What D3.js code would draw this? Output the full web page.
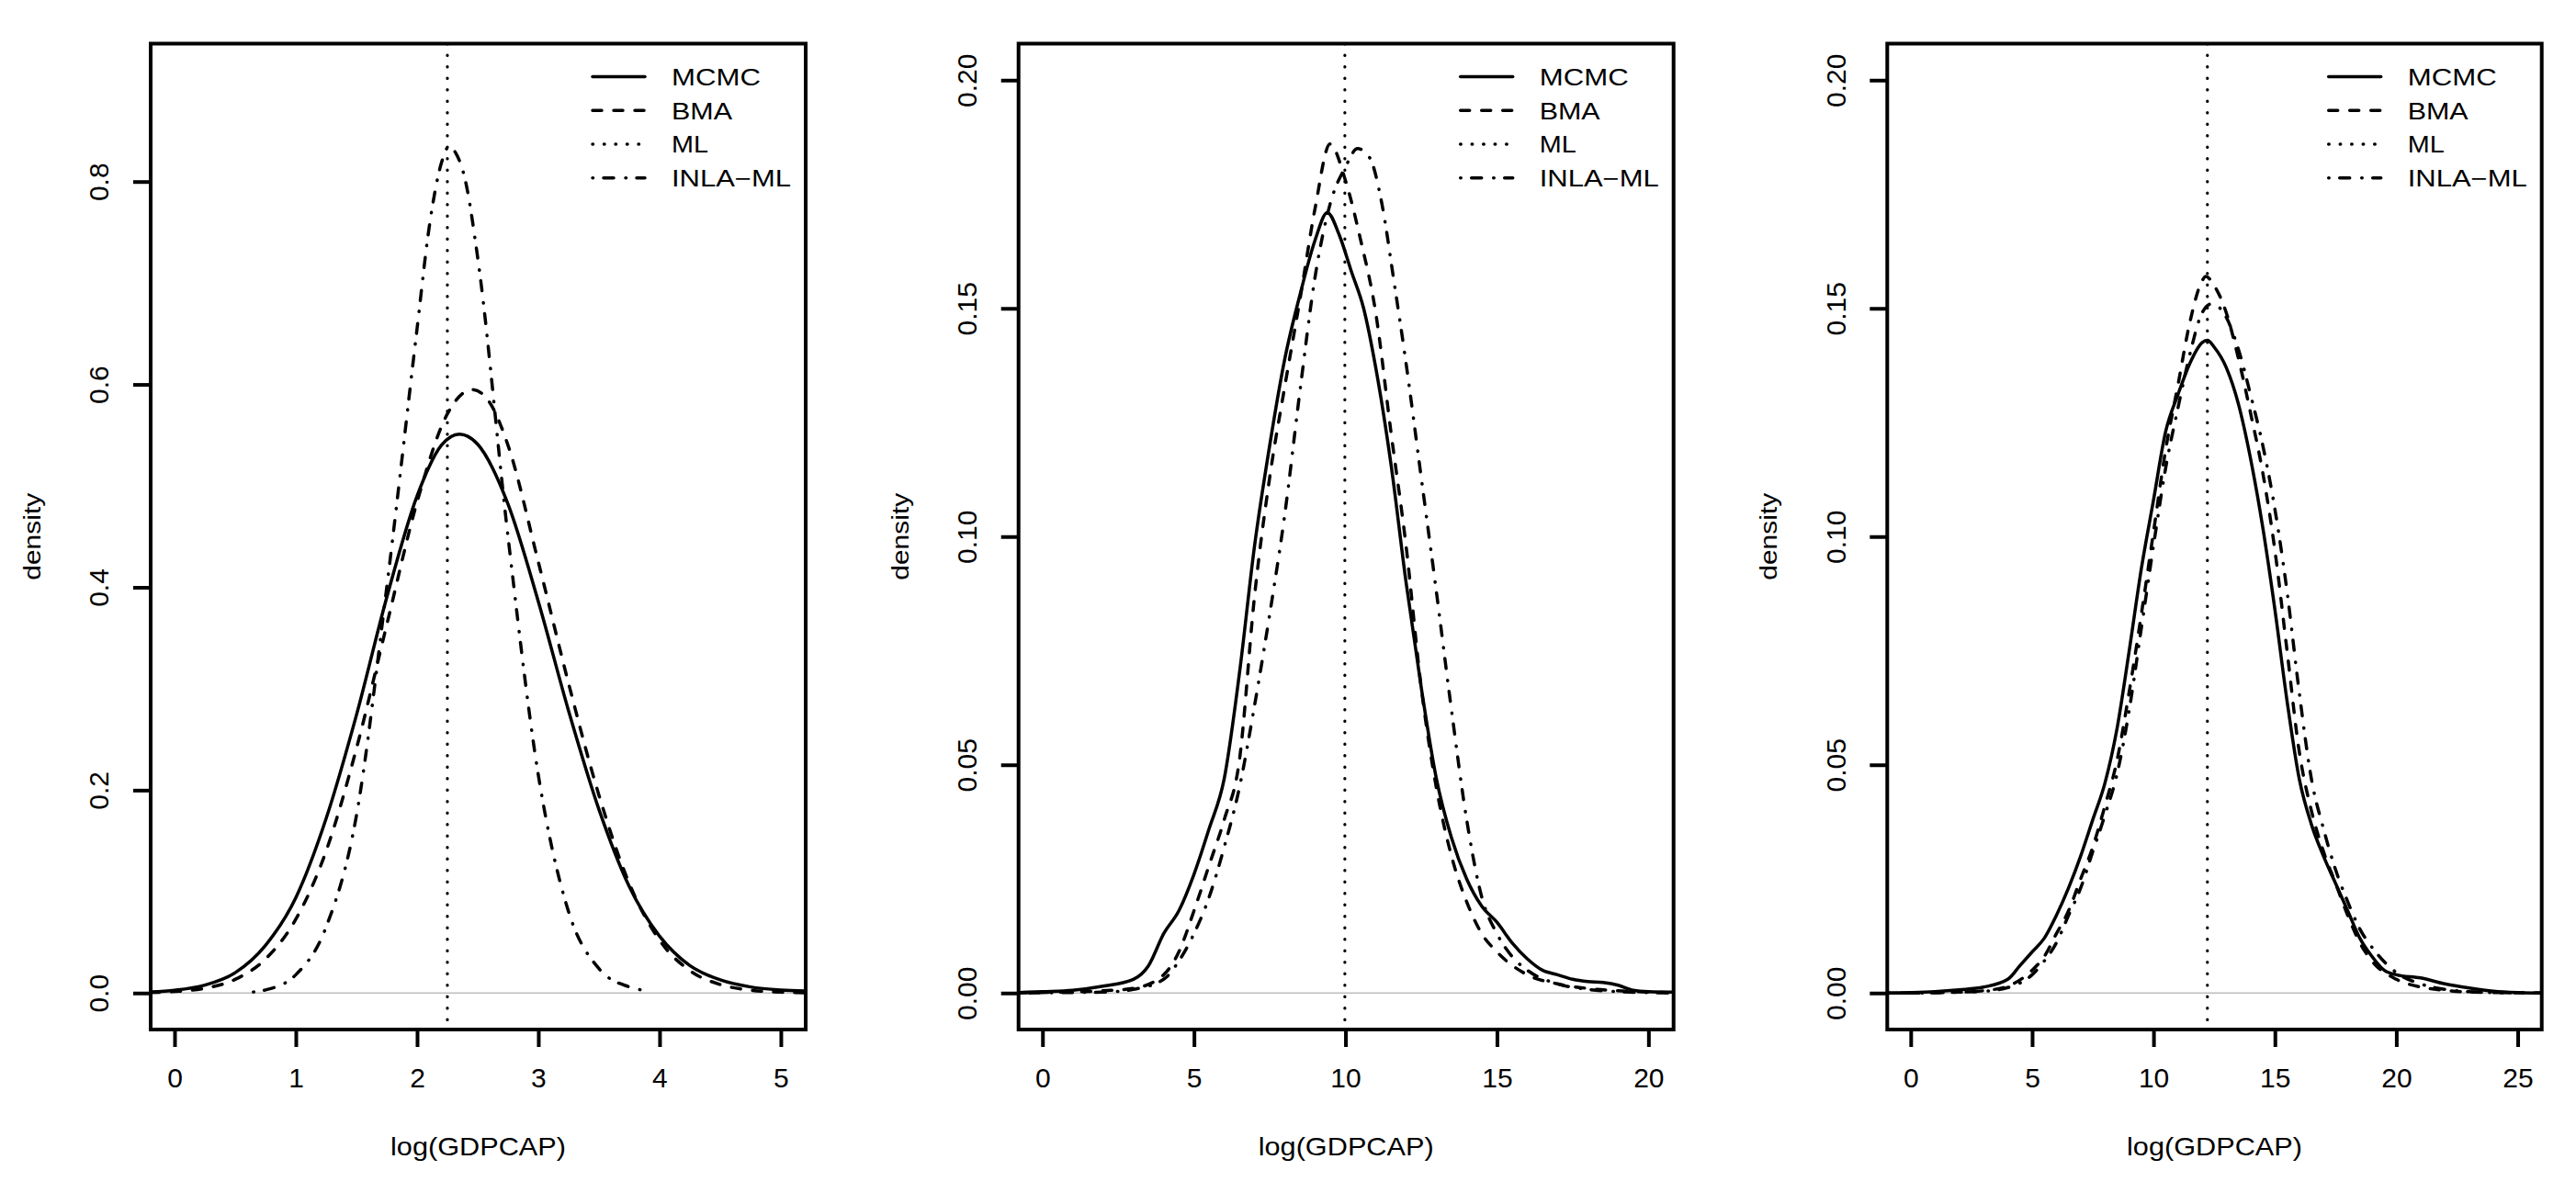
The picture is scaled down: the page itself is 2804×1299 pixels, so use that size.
<!DOCTYPE html>
<html><head><meta charset="utf-8">
<script src="https://cdn.jsdelivr.net/npm/d3@7"></script>
<style>html,body{margin:0;padding:0;background:#fff;}svg{display:block;}</style>
</head><body>
<svg id="chart" width="2804" height="1299"></svg>
<script>
// ---------- DATA ----------
const seriesNames = ["MCMC", "BMA", "ML", "INLA\u2212ML"];
const xTitle = "log(GDPCAP)";
const yTitle = "density";

// Panel 1
const p1XTicks = [0, 1, 2, 3, 4, 5];
const p1YTicks = [0.0, 0.2, 0.4, 0.6, 0.8];
const p1ML = 2.25;
const p1MCMC = [[-0.2,0.001],[0,0.0027],[0.25,0.0078],[0.5,0.020],[0.75,0.047],[1.0,0.094],[1.25,0.172],[1.5,0.274],[1.75,0.39],[2.0,0.49],[2.2,0.54],[2.35,0.551],[2.5,0.541],[2.75,0.482],[3.0,0.386],[3.25,0.278],[3.5,0.181],[3.75,0.105],[4.0,0.056],[4.25,0.027],[4.5,0.013],[4.75,0.006],[5.0,0.003],[5.2,0.002]];
const p1BMA = [[-0.2,0.0005],[0,0.0015],[0.25,0.0047],[0.5,0.0134],[0.75,0.0335],[1.0,0.0727],[1.25,0.140],[1.5,0.241],[1.75,0.363],[2.0,0.484],[2.25,0.571],[2.456,0.595],[2.6,0.582],[2.75,0.54],[3.0,0.425],[3.25,0.305],[3.5,0.195],[3.75,0.108],[4.0,0.052],[4.25,0.022],[4.5,0.0084],[4.75,0.0028],[5.0,0.0008],[5.2,0.0003]];
const p1INLA = [[0.65,0.001],[0.75,0.003],[1.0,0.018],[1.25,0.065],[1.5,0.175],[1.75,0.40],[2.0,0.655],[2.1,0.755],[2.2,0.818],[2.26,0.834],[2.32,0.828],[2.4,0.80],[2.5,0.725],[2.75,0.45],[3.0,0.215],[3.25,0.08],[3.5,0.024],[3.75,0.006],[3.85,0.003]];

// Panel 2
const p2XTicks = [0, 5, 10, 15, 20];
const p2YTicks = [0.00, 0.05, 0.10, 0.15, 0.20];
const p2ML = 9.98;
const p2MCMC = [[-0.8,0.0001],[0,0.0003],[1,0.0006],[2,0.0015],[3,0.003],[3.5,0.006],[4,0.013],[4.5,0.018],[5,0.026],[5.5,0.036],[6,0.047],[6.5,0.07],[7,0.098],[7.5,0.12],[8,0.139],[8.5,0.153],[9,0.165],[9.4,0.171],[9.8,0.166],[10.2,0.158],[10.6,0.150],[11,0.137],[11.5,0.116],[12,0.090],[12.5,0.067],[13,0.047],[13.5,0.034],[14,0.025],[14.5,0.019],[15,0.0155],[15.5,0.011],[16,0.0075],[16.5,0.005],[17,0.004],[17.5,0.003],[18,0.0025],[18.5,0.0023],[19,0.0017],[19.5,0.0006],[20,0.0003],[20.8,0.0002]];
const p2BMA = [[-0.8,0.0],[0,0.0001],[2,0.0005],[3,0.001],[4,0.004],[4.5,0.009],[5,0.018],[5.5,0.028],[6,0.038],[6.5,0.051],[7,0.087],[7.5,0.113],[8,0.133],[8.5,0.152],[9,0.172],[9.49,0.186],[10,0.178],[10.5,0.165],[11,0.149],[11.5,0.123],[12,0.098],[12.5,0.067],[13,0.045],[13.5,0.03],[14,0.02],[14.5,0.013],[15,0.009],[16,0.004],[17,0.002],[18,0.001],[19,0.0005],[20,0.0002],[20.8,0.0001]];
const p2INLA = [[-0.8,0.0],[0,0.00005],[2,0.0002],[3,0.0008],[4,0.003],[4.5,0.007],[5,0.013],[5.5,0.021],[6,0.032],[6.5,0.045],[7,0.063],[7.5,0.083],[8,0.105],[8.5,0.132],[9,0.157],[9.5,0.173],[10,0.181],[10.4,0.185],[10.8,0.183],[11.2,0.173],[11.6,0.156],[12,0.138],[12.5,0.113],[13,0.088],[13.5,0.062],[14,0.038],[14.5,0.021],[15,0.013],[15.5,0.008],[16,0.005],[17,0.002],[18,0.0008],[19,0.0003],[20,0.0001],[20.8,0.0]];

// Panel 3
const p3XTicks = [0, 5, 10, 15, 20, 25];
const p3YTicks = [0.00, 0.05, 0.10, 0.15, 0.20];
const p3ML = 12.22;
const p3MCMC = [[-0.9,0.0],[0,0.0001],[1,0.0003],[2,0.0007],[3,0.0013],[4,0.003],[4.5,0.006],[5,0.009],[5.5,0.012],[6,0.017],[6.5,0.023],[7,0.03],[7.5,0.038],[8,0.046],[8.5,0.058],[9,0.075],[9.5,0.093],[10,0.108],[10.5,0.123],[11,0.131],[11.5,0.138],[12,0.1425],[12.22,0.143],[12.5,0.1415],[13,0.137],[13.5,0.129],[14,0.117],[14.5,0.102],[15,0.084],[15.5,0.064],[16,0.047],[16.5,0.037],[17,0.030],[17.5,0.024],[18,0.018],[18.5,0.012],[19,0.008],[19.5,0.005],[20,0.004],[21,0.0033],[22,0.002],[23,0.0011],[24,0.0004],[25,0.0001],[26,0.0]];
const p3BMA = [[-0.9,0.0],[0,0.0],[2,0.0002],[3,0.0005],[4,0.0015],[5,0.005],[5.5,0.008],[6,0.013],[6.5,0.018],[7,0.025],[7.5,0.032],[8,0.041],[8.5,0.051],[9,0.066],[9.5,0.083],[10,0.101],[10.5,0.119],[11,0.133],[11.5,0.147],[12,0.156],[12.15,0.157],[12.5,0.155],[13,0.149],[13.5,0.139],[14,0.127],[14.5,0.114],[15,0.097],[15.5,0.075],[16,0.053],[16.5,0.04],[17,0.031],[17.5,0.024],[18,0.017],[18.5,0.011],[19,0.007],[20,0.003],[21,0.0013],[22,0.0006],[23,0.0002],[24,0.0001],[26,0.0]];
const p3INLA = [[-0.9,0.0],[0,0.0],[3,0.0004],[4,0.0012],[5,0.004],[5.5,0.007],[6,0.011],[6.5,0.017],[7,0.023],[7.5,0.031],[8,0.039],[8.5,0.048],[9,0.062],[9.5,0.08],[10,0.098],[10.5,0.115],[11,0.128],[11.5,0.14],[12,0.149],[12.4,0.151],[13,0.148],[13.5,0.141],[14,0.131],[14.5,0.12],[15,0.106],[15.5,0.088],[16,0.066],[16.5,0.047],[17,0.036],[17.5,0.027],[18,0.02],[18.5,0.014],[19,0.01],[20,0.0045],[21,0.002],[22,0.0008],[23,0.0003],[24,0.0001],[26,0.0]];

// ---------- LAYOUT ----------
const panels = [
  {left:164,    right:877,    xDom:[-0.197,5.205], yDom:[-0.036,0.936], xTicks:p1XTicks, yTicks:p1YTicks, yFmt:d3.format(".1f"), ml:p1ML, mcmc:p1MCMC, bma:p1BMA, inla:p1INLA},
  {left:1108.7, right:1821.7, xDom:[-0.79,20.83],  yDom:[-0.008,0.208], xTicks:p2XTicks, yTicks:p2YTicks, yFmt:d3.format(".2f"), ml:p2ML, mcmc:p2MCMC, bma:p2BMA, inla:p2INLA},
  {left:2054.3, right:2766.7, xDom:[-0.966,25.99], yDom:[-0.008,0.208], xTicks:p3XTicks, yTicks:p3YTicks, yFmt:d3.format(".2f"), ml:p3ML, mcmc:p3MCMC, bma:p3BMA, inla:p3INLA}
];
const TOP = 47.5, BOTTOM = 1121;
const LW = 3.5;
const FONT = "'Liberation Sans', Arial, Helvetica, sans-serif";
const styles = {
  mcmc: {dash: null},
  bma:  {dash: "10,13"},
  ml:   {dash: "0.5,12"},
  inla: {dash: "0.5,11.5,11,13"}
};

const svg = d3.select("#chart");
svg.append("rect").attr("width",2804).attr("height",1299).attr("fill","#fff");

panels.forEach((p, i) => {
  const x = d3.scaleLinear().domain(p.xDom).range([p.left, p.right]);
  const y = d3.scaleLinear().domain(p.yDom).range([BOTTOM, TOP]);
  const g = svg.append("g");
  const clipId = "clip" + i;
  svg.append("clipPath").attr("id", clipId).append("rect")
    .attr("x", p.left).attr("y", TOP).attr("width", p.right - p.left).attr("height", BOTTOM - TOP);
  const plot = g.append("g").attr("clip-path", `url(#${clipId})`);

  // zero line
  plot.append("line").attr("x1", p.left).attr("x2", p.right)
    .attr("y1", y(0)).attr("y2", y(0)).attr("stroke", "#bebebe").attr("stroke-width", 1.6);

  const line = d3.line().x(d => x(d[0])).y(d => y(d[1])).curve(d3.curveMonotoneX);
  [["mcmc", p.mcmc], ["bma", p.bma], ["inla", p.inla]].forEach(([k, data]) => {
    const path = plot.append("path").attr("d", line(data)).attr("fill", "none")
      .attr("stroke", "#000").attr("stroke-width", LW)
      .attr("stroke-linecap", "round").attr("stroke-linejoin", "round");
    if (styles[k].dash) path.attr("stroke-dasharray", styles[k].dash);
  });
  // ML vertical line
  plot.append("line").attr("x1", x(p.ml)).attr("x2", x(p.ml)).attr("y1", TOP).attr("y2", BOTTOM)
    .attr("stroke", "#000").attr("stroke-width", 3.2).attr("stroke-linecap", "round")
    .attr("stroke-dasharray", styles.ml.dash);

  // frame
  g.append("rect").attr("x", p.left).attr("y", TOP).attr("width", p.right - p.left).attr("height", BOTTOM - TOP)
    .attr("fill", "none").attr("stroke", "#000").attr("stroke-width", 4);

  // x axis
  const xAxis = d3.axisBottom(x).tickValues(p.xTicks).tickSize(19).tickPadding(0).tickFormat(d3.format("d"));
  const xa = g.append("g").attr("transform", `translate(0,${BOTTOM})`).call(xAxis);
  xa.select(".domain").remove();
  xa.selectAll(".tick line").attr("stroke", "#000").attr("stroke-width", 4);
  xa.selectAll(".tick text").attr("y", 63).attr("dy", null).attr("font-size", 30)
    .attr("font-family", FONT).attr("fill", "#000");

  // y axis
  const yAxis = d3.axisLeft(y).tickValues(p.yTicks).tickSize(19).tickPadding(0).tickFormat(p.yFmt);
  const ya = g.append("g").attr("transform", `translate(${p.left},0)`).call(yAxis);
  ya.select(".domain").remove();
  ya.selectAll(".tick line").attr("stroke", "#000").attr("stroke-width", 4);
  ya.selectAll(".tick text").attr("x", null).attr("dy", null).attr("text-anchor", "middle")
    .attr("transform", "translate(-45.7,0) rotate(-90)")
    .attr("font-size", 30).attr("font-family", FONT).attr("fill", "#000");

  // titles
  g.append("text").attr("x", (p.left + p.right) / 2).attr("y", 1258).attr("text-anchor", "middle")
    .attr("font-size", 28).attr("font-family", FONT).attr("textLength", 191).attr("lengthAdjust", "spacingAndGlyphs")
    .text(xTitle);
  g.append("text").attr("transform", `translate(${p.left - 120},${(TOP + BOTTOM) / 2}) rotate(-90)`)
    .attr("text-anchor", "middle").attr("font-size", 25).attr("font-family", FONT)
    .attr("textLength", 95).attr("lengthAdjust", "spacingAndGlyphs")
    .text(yTitle);

  // legend
  const legKeys = ["mcmc", "bma", "ml", "inla"];
  const legLens = [97, 66, 40, 130];
  legKeys.forEach((k, j) => {
    const by = 92.8 + j * 36.7;
    const l = g.append("line").attr("x1", p.right - 232).attr("x2", p.right - 175)
      .attr("y1", by - 9.2).attr("y2", by - 9.2).attr("stroke", "#000").attr("stroke-width", LW)
      .attr("stroke-linecap", "round");
    if (styles[k].dash) l.attr("stroke-dasharray", styles[k].dash);
    g.append("text").attr("x", p.right - 146).attr("y", by).attr("font-size", 25).attr("font-family", FONT)
      .attr("textLength", legLens[j]).attr("lengthAdjust", "spacingAndGlyphs")
      .text(seriesNames[j]);
  });
});
</script>
</body></html>
